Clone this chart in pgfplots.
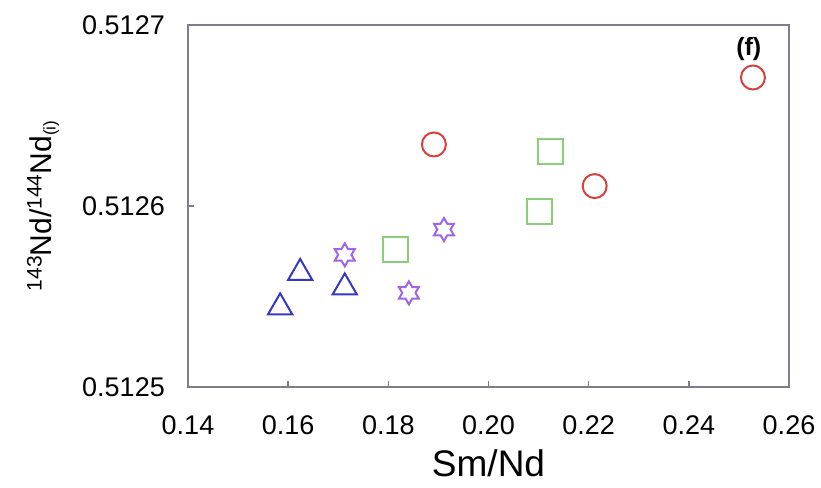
\documentclass[border=0pt]{standalone}
\usepackage{pgfplots}
\pgfplotsset{compat=1.18}
\usepackage{fontspec}
\setmainfont{Liberation Sans}
\definecolor{redc}{RGB}{215,65,60}
\definecolor{greenc}{RGB}{140,205,120}
\definecolor{bluec}{RGB}{55,55,195}
\definecolor{purplec}{RGB}{160,100,230}
\definecolor{axisgray}{RGB}{125,125,142}
\pgfdeclareplotmark{hexstar}{%
  \pgfpathmoveto{\pgfpointpolar{90}{\pgfplotmarksize}}%
  \pgfpathlineto{\pgfpointpolar{120}{0.577\pgfplotmarksize}}%
  \pgfpathlineto{\pgfpointpolar{150}{\pgfplotmarksize}}%
  \pgfpathlineto{\pgfpointpolar{180}{0.577\pgfplotmarksize}}%
  \pgfpathlineto{\pgfpointpolar{210}{\pgfplotmarksize}}%
  \pgfpathlineto{\pgfpointpolar{240}{0.577\pgfplotmarksize}}%
  \pgfpathlineto{\pgfpointpolar{270}{\pgfplotmarksize}}%
  \pgfpathlineto{\pgfpointpolar{300}{0.577\pgfplotmarksize}}%
  \pgfpathlineto{\pgfpointpolar{330}{\pgfplotmarksize}}%
  \pgfpathlineto{\pgfpointpolar{0}{0.577\pgfplotmarksize}}%
  \pgfpathlineto{\pgfpointpolar{30}{\pgfplotmarksize}}%
  \pgfpathlineto{\pgfpointpolar{60}{0.577\pgfplotmarksize}}%
  \pgfpathclose
  \pgfusepathqstroke
}
\newcommand\sups[1]{\raisebox{10pt}{\fontsize{21}{21}\selectfont #1}}
\newcommand\subs[1]{\raisebox{-4pt}{\fontsize{17}{17}\selectfont #1}}
\begin{document}
\begin{tikzpicture}
\useasboundingbox (0,0) rectangle (821pt,487pt);
\begin{axis}[
  at={(188pt,100pt)}, anchor=south west,
  scale only axis, width=601pt, height=362pt,
  xmin=0.14, xmax=0.26, ymin=0.5125, ymax=0.5127,
  xtick={0.14,0.16,0.18,0.20,0.22,0.24,0.26},
  xticklabels={0.14,0.16,0.18,0.20,0.22,0.24,0.26},
  ytick={0.5125,0.5126,0.5127},
  yticklabels={0.5125,0.5126,0.5127},
  tick pos=left, tick align=inside,
  major tick length=6pt,
  axis line style={draw=axisgray, line width=2.5pt},
  every tick/.style={draw=axisgray, line width=1.5pt},
  /pgf/number format/assume math mode=true,
  xticklabel style={font=\fontsize{27}{30}\selectfont, anchor=base, inner sep=0pt, yshift=-47pt},
  yticklabel style={font=\fontsize{27}{30}\selectfont, anchor=east, inner sep=0pt, xshift=-23pt},
  xlabel={Sm/Nd},
  xlabel style={font=\fontsize{37}{40}\selectfont, at={(axis description cs:0.5,-0.2459)}, anchor=base, inner sep=0pt},
  ylabel={\sups{143}Nd/\sups{144}Nd\subs{(i)}},
  ylabel style={font=\fontsize{30}{32}\selectfont, at={(axis description cs:-0.2413,0.5)}, anchor=center, inner sep=0pt},
  clip=false,
]
\addplot[only marks, mark=triangle, mark size=14pt, mark options={draw=bluec, line width=2pt, fill=none}]
  coordinates {(0.1584,0.512544) (0.1624,0.512563) (0.1713,0.512555)};
\addplot[only marks, mark=hexstar, mark size=11.5pt, mark options={draw=purplec, line width=2pt, fill=none}]
  coordinates {(0.1713,0.512573) (0.1841,0.512552) (0.1911,0.512587)};
\addplot[only marks, mark=square, mark size=12.5pt, mark options={draw=greenc, line width=2pt, fill=none}]
  coordinates {(0.1815,0.512576) (0.2101,0.512597) (0.2123,0.512630)};
\addplot[only marks, mark=o, mark size=12pt, mark options={draw=redc, line width=2pt, fill=none}]
  coordinates {(0.1891,0.512634) (0.2212,0.512611) (0.2528,0.512671)};
\node[font=\fontsize{25}{28}\selectfont\bfseries] at (rel axis cs:0.933,0.934) {(f)};
\end{axis}
\end{tikzpicture}
\end{document}
